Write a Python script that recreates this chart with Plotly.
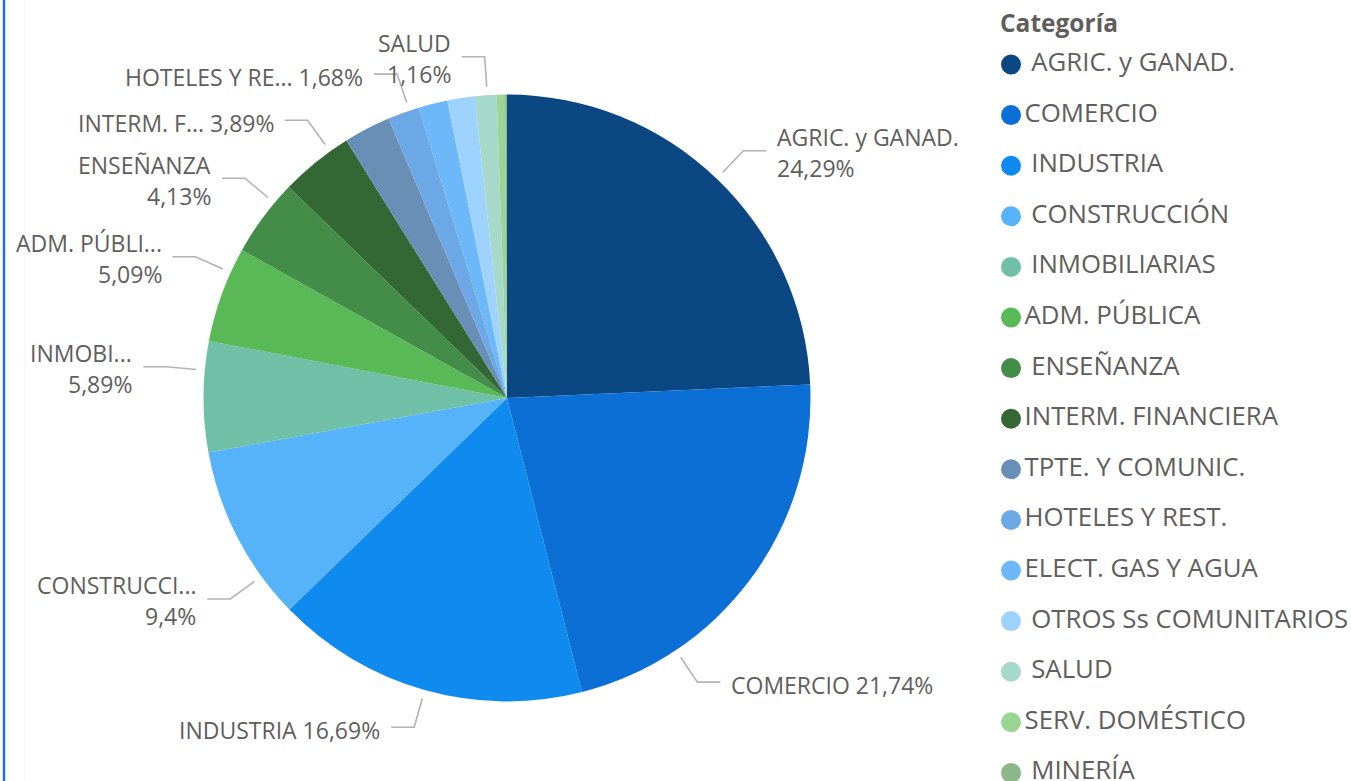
import math
import plotly.graph_objects as go

W, H = 1351, 781

# datos del visual
categorias = [" AGRIC. y GANAD.", "COMERCIO", " INDUSTRIA", " CONSTRUCCIÓN", " INMOBILIARIAS",
              "ADM. PÚBLICA", " ENSEÑANZA", "INTERM. FINANCIERA", "TPTE. Y COMUNIC.",
              "HOTELES Y REST.", "ELECT. GAS Y AGUA", " OTROS Ss COMUNITARIOS", " SALUD",
              "SERV. DOMÉSTICO", " MINERÍA"]
porcentajes = [24.29, 21.74, 16.69, 9.40, 5.89, 5.09, 4.13, 3.89, 2.50, 1.68, 1.55, 1.45, 1.16, 0.44, 0.10]
colores = ["#0B4783", "#0B6FD6", "#0F8BF0", "#56B3FA", "#70C0A8", "#58B956", "#438D48", "#336834",
           "#6A8FB6", "#6CA8E6", "#6CB8F8", "#9DD3FE", "#A6D9CA", "#9AD596", "#8DB68A"]
# etiquetas que muestra el visual (nombre recortado), None = oculta
etiquetas = ["AGRIC. y GANAD.", "COMERCIO", "INDUSTRIA", "CONSTRUCCI...", "INMOBI...",
             "ADM. PÚBLI...", "ENSEÑANZA", "INTERM. F...", None, "HOTELES Y RE...",
             None, None, "SALUD", None, None]

# estilo de las etiquetas: lineas y ajuste del angulo de la guia (grados)
lineas = [2, 1, 1, 2, 2, 2, 2, 1, 1, 1, 1, 1, 2, 1, 1]
ajuste = [0, 19.6, 0, -8.7, 5, 4.4, 3.4, 3.3, 0, 1.2, 0, 0, 0.3, 0, 0]

gris = "#605E5C"
fuente = "Open Sans, Segoe UI, sans-serif"
cx, cy, R = 507, 398, 303.5

fig = go.Figure()

fig.add_trace(go.Pie(
    labels=categorias, values=porcentajes, sort=False, direction="clockwise",
    marker=dict(colors=colores, line=dict(width=0)), textinfo="none",
    hoverinfo="label+percent", showlegend=False,
    domain=dict(x=[(cx - R) / W, (cx + R) / W], y=[1 - (cy + R) / H, 1 - (cy - R) / H]),
))

def fmt(v):
    return ("%g" % v).replace(".", ",") + "%"

shapes = []
annotations = []
total = sum(porcentajes)
acum = 0
for i, v in enumerate(porcentajes):
    medio = (acum + v / 2) / total * 360
    acum += v
    if etiquetas[i] is None:
        continue
    a = math.radians(medio + ajuste[i])
    x0, y0 = cx + (R + 8.5) * math.sin(a), cy - (R + 8.5) * math.cos(a)
    x1, y1 = cx + (R + 38.5) * math.sin(a), cy - (R + 38.5) * math.cos(a)
    derecha = math.sin(a) > 0
    x2 = x1 + 23 if derecha else x1 - 23
    shapes.append(dict(type="path", xref="x", yref="y",
                       path="M %.1f %.1f L %.1f %.1f L %.1f %.1f" % (x0, y0, x1, y1, x2, y1),
                       line=dict(color="#B3B3B3", width=1.6)))
    xt = x2 + 9 if derecha else x2 - 9
    anchor = "left" if derecha else "right"
    if lineas[i] == 1:
        textos = [(etiquetas[i] + " " + fmt(v), y1 + 3)]
    else:
        textos = [(etiquetas[i], y1 - 13.5), (fmt(v), y1 + 17.5)]
    for t, yt in textos:
        annotations.append(dict(x=xt, y=yt, xref="x", yref="y", text=t, showarrow=False,
                                xanchor=anchor, yanchor="middle",
                                font=dict(family=fuente, size=23, color=gris)))

# leyenda dibujada a mano
leyenda_y0, leyenda_paso = 64.5, 50.6
n = len(categorias)
fig.add_trace(go.Scatter(
    x=[1011] * n, y=list(range(n)), yaxis="y2", mode="markers+text",
    marker=dict(size=20, color=colores),
    text=[c.replace(" ", "\u00a0", 1) if c.startswith(" ") else c for c in categorias],
    textposition="middle right", textfont=dict(family=fuente, size=25.8, color=gris),
    cliponaxis=False, showlegend=False, hoverinfo="skip",
))
annotations.append(dict(x=998, y=22, xref="x", yref="y", text="<b>Categoría</b>", showarrow=False,
                        xanchor="left", yanchor="middle",
                        font=dict(family=fuente, size=24.5, color=gris)))

# bordes del visual
shapes.append(dict(type="line", xref="paper", yref="paper", x0=4 / W, x1=4 / W, y0=0, y1=1,
                   line=dict(color="#1A73D8", width=2.5)))
shapes.append(dict(type="line", xref="paper", yref="paper", x0=25 / W, x1=25 / W, y0=0, y1=1,
                   line=dict(color="#EEF4FB", width=1)))

fig.update_layout(
    width=W, height=H, margin=dict(l=0, r=0, t=0, b=0),
    paper_bgcolor="white", plot_bgcolor="rgba(0,0,0,0)",
    xaxis=dict(range=[0, W], visible=False, fixedrange=True),
    yaxis=dict(range=[H, 0], visible=False, fixedrange=True),
    yaxis2=dict(range=[n - 1 + (H - (leyenda_y0 + (n - 1) * leyenda_paso)) / leyenda_paso,
                       -leyenda_y0 / leyenda_paso],
                overlaying="y", visible=False, fixedrange=True),
    shapes=shapes, annotations=annotations,
)

fig.write_html("out.html", config={"displayModeBar": False},
               post_script="document.body.style.margin='0';")
